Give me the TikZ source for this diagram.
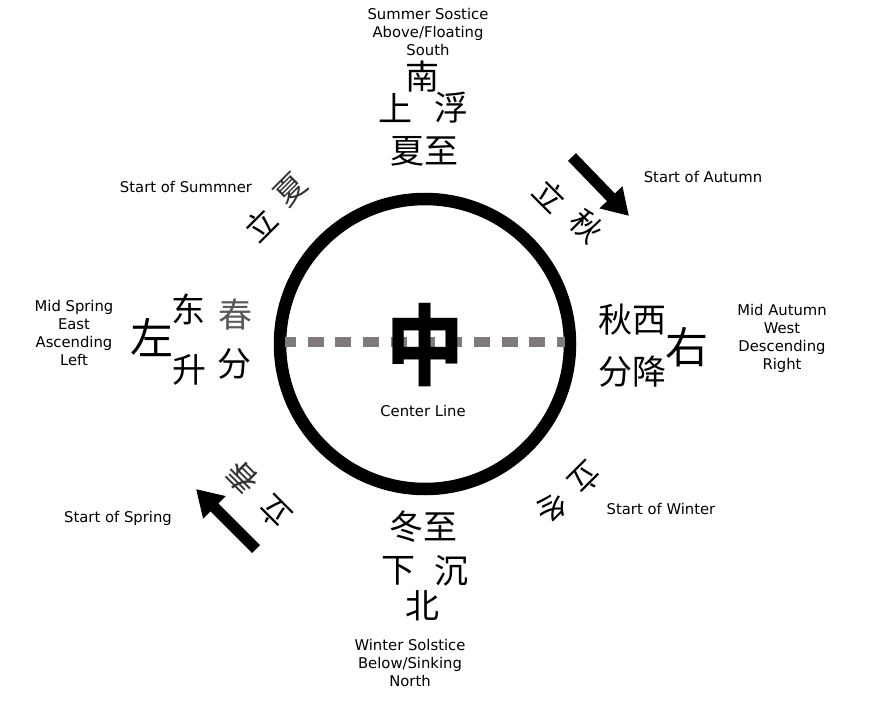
\documentclass[tikz,border=0pt]{standalone}
\usepackage{fontspec}
\setmainfont{DejaVu Sans}
\newfontfamily\cjk{Noto Sans CJK SC}
\usetikzlibrary{arrows.meta}
\definecolor{dashgray}{RGB}{128,122,122}
\tikzset{
  lbl/.style={align=center,inner sep=0pt,font=\fontsize{14.8}{18}\selectfont},
  hz/.style={inner sep=0pt,font=\cjk\fontsize{34}{34}\selectfont},
  bighz/.style={inner sep=0pt,font=\cjk\fontsize{43}{43}\selectfont},
  rothz/.style={inner sep=0pt,font=\cjk\fontsize{31}{31}\selectfont},
  season/.style={line width=11pt,-{Triangle[length=26pt,width=30pt]}},
  centerline/.style={dashgray,line width=10pt,dash pattern=on 16pt off 11.7pt,dash phase=5pt}
}
\begin{document}
\begin{tikzpicture}[x=1pt,y=-1pt]
\useasboundingbox (0,0) rectangle (870,714);
% circle and center
\coordinate (c) at (425,344);
\draw[line width=12.5pt] (c) circle[radius=145];
\coordinate (cl) at (285,342);
\coordinate (cr) at (565,342);
\draw[centerline] (cl) -- (cr);
\node[inner sep=0pt,xscale=0.88,font=\cjk\bfseries\fontsize{88}{88}\selectfont] (zhong) at (425,345) {中};
\node[lbl] (centerlbl) at (423,411) {Center Line};
% top
\node[lbl] (toplbl) at (428,32) {Summer Sostice\\Above/Floating\\South};
\node[hz] (nan) at (422,77) {南};
\node[hz] (shang) at (395,108) {上};
\node[hz] (fu) at (451,108) {浮};
\node[hz] (xiazhi) at (424,151) {夏至};
% bottom
\node[hz] (dongzhi) at (423,527) {冬至};
\node[hz] (xiaa) at (398,571) {下};
\node[hz] (chen) at (451,571) {沉};
\node[hz] (bei) at (422,606) {北};
\node[lbl] (botlbl) at (410,663) {Winter Solstice\\Below/Sinking\\North};
% left
\node[lbl] (leftlbl) at (74,333) {Mid Spring\\East\\Ascending\\Left};
\node[hz] (dongE) at (188,309) {东};
\node[hz,text=black!65] (chun) at (235,315) {春};
\node[bighz] (zuo) at (152,338) {左};
\node[hz] (sheng) at (189,370) {升};
\node[hz] (fen1) at (234,364) {分};
% right
\node[lbl] (rightlbl) at (782,338) {Mid Autumn\\West\\Descending\\Right};
\node[hz] (qiuxi) at (632,320) {秋西};
\node[bighz] (you) at (687,347) {右};
\node[hz] (fenjiang) at (632,372) {分降};
% start of summer
\node[lbl] (sumlbl) at (186,187) {Start of Summner};
\node[rothz,rotate=45] (li1) at (261,225) {立};
\node[rothz,rotate=45,text=black!80] (xia2) at (291,190) {夏};
% start of autumn
\node[lbl] (autlbl) at (703,177) {Start of Autumn};
\node[rothz,rotate=-45] (li2) at (550,196) {立};
\node[rothz,rotate=-45] (qiu2) at (587,226) {秋};
\coordinate (a1) at (572,157);
\coordinate (a2) at (629,216);
\draw[season] (a1) -- (a2);
% start of winter
\node[lbl] (winlbl) at (661,509) {Start of Winter};
\node[rothz,rotate=-135] (li3) at (585,478) {立};
\node[rothz,rotate=-135] (dong2) at (552,508) {冬};
% start of spring
\node[lbl] (sprlbl) at (118,518) {Start of Spring};
\node[rothz,rotate=135,text=black!80] (chun2) at (242,478) {春};
\node[rothz,rotate=135] (li4) at (275,512) {立};
\coordinate (s1) at (256,549);
\coordinate (s2) at (196,489);
\draw[season] (s1) -- (s2);
\end{tikzpicture}
\end{document}
